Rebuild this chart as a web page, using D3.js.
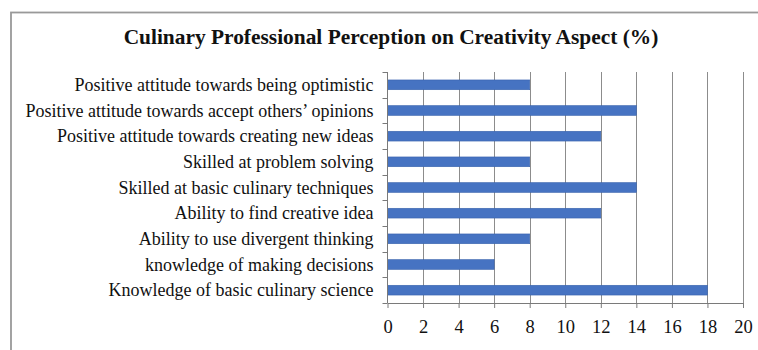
<!DOCTYPE html>
<html>
<head>
<meta charset="utf-8">
<script src="https://cdn.jsdelivr.net/npm/d3@7"></script>
<style>
  html, body { margin: 0; padding: 0; background: #fff; }
  svg { display: block; }
  text { font-family: "Liberation Serif", "Times New Roman", serif; fill: #111; }
</style>
</head>
<body>
<svg id="chart" width="758" height="350"></svg>
<script>
// Creativity aspects, listed top to bottom
const categories = [
  "Positive attitude towards being optimistic",
  "Positive attitude towards accept others\u2019 opinions",
  "Positive attitude towards creating new ideas",
  "Skilled at problem solving",
  "Skilled at basic culinary techniques",
  "Ability to find creative idea",
  "Ability to use divergent thinking",
  "knowledge of making decisions",
  "Knowledge of basic culinary science"
];
// Percentage of culinary professionals per aspect
const percentages = [8, 14, 12, 8, 14, 12, 8, 6, 18];
const xTicks = [0, 2, 4, 6, 8, 10, 12, 14, 16, 18, 20];
const title = "Culinary Professional Perception on Creativity Aspect (%)";

const svg = d3.select("#chart");
const W = 758, H = 350;
const plot = { left: 387.5, right: 743, top: 72, bottom: 303 };

// Outer frame
svg.append("rect")
  .attr("x", 11).attr("y", 12.5)
  .attr("width", W + 20).attr("height", H + 20)
  .attr("fill", "#fff").attr("stroke", "#999").attr("stroke-width", 1.8);

svg.append("text")
  .attr("x", 391).attr("y", 44)
  .attr("text-anchor", "middle")
  .attr("font-weight", "bold")
  .attr("font-size", 21.4)
  .text(title);

const x = d3.scaleLinear().domain([0, 20]).range([plot.left, plot.right]);
const y = d3.scaleBand().domain(categories).range([plot.top, plot.bottom]).paddingInner(0.62).paddingOuter(0.31);
const yb = d3.scaleBand().domain(categories).range([plot.top, plot.bottom]);

// Vertical gridlines
svg.append("g").selectAll("line")
  .data(xTicks.slice(1))
  .join("line")
  .attr("x1", d => Math.round(x(d)) + 0.5).attr("x2", d => Math.round(x(d)) + 0.5)
  .attr("y1", plot.top).attr("y2", plot.bottom)
  .attr("stroke", "#8c8c8c").attr("stroke-width", 1);

// Bars
svg.append("g").selectAll("rect")
  .data(categories)
  .join("rect")
  .attr("x", x(0))
  .attr("y", d => y(d))
  .attr("width", (d, i) => x(percentages[i]) - x(0))
  .attr("height", y.bandwidth())
  .attr("fill", "#4673c2")
  .attr("stroke", "#3a64ad").attr("stroke-width", 0.6);

// Bottom axis
const xAxis = d3.axisBottom(x).tickValues(xTicks).tickSize(5).tickPadding(12).tickSizeOuter(0);
const gx = svg.append("g").attr("transform", `translate(0,${plot.bottom})`).call(xAxis);
gx.select(".domain").attr("stroke", "#7a7a7a");
gx.selectAll(".tick line").attr("stroke", "#7a7a7a");
gx.selectAll(".tick text")
  .attr("font-family", "Liberation Serif, serif")
  .attr("font-size", 18.5).attr("fill", "#111");

// Left axis: ticks sit on category boundaries
const gy = svg.append("g").attr("transform", `translate(${plot.left},0)`);
gy.append("line")
  .attr("x1", 0).attr("x2", 0).attr("y1", plot.top).attr("y2", plot.bottom)
  .attr("stroke", "#7a7a7a");
const bounds = categories.map(c => yb(c)).concat([plot.bottom]);
gy.selectAll("line.tk").data(bounds).join("line").attr("class", "tk")
  .attr("x1", -5).attr("x2", 0)
  .attr("y1", d => Math.round(d) + 0.5).attr("y2", d => Math.round(d) + 0.5)
  .attr("stroke", "#7a7a7a");
gy.selectAll("text").data(categories).join("text")
  .attr("x", -14)
  .attr("y", d => yb(d) + yb.bandwidth() / 2)
  .attr("dy", "0.35em")
  .attr("text-anchor", "end")
  .attr("font-size", 18)
  .text(d => d);
</script>
</body>
</html>
